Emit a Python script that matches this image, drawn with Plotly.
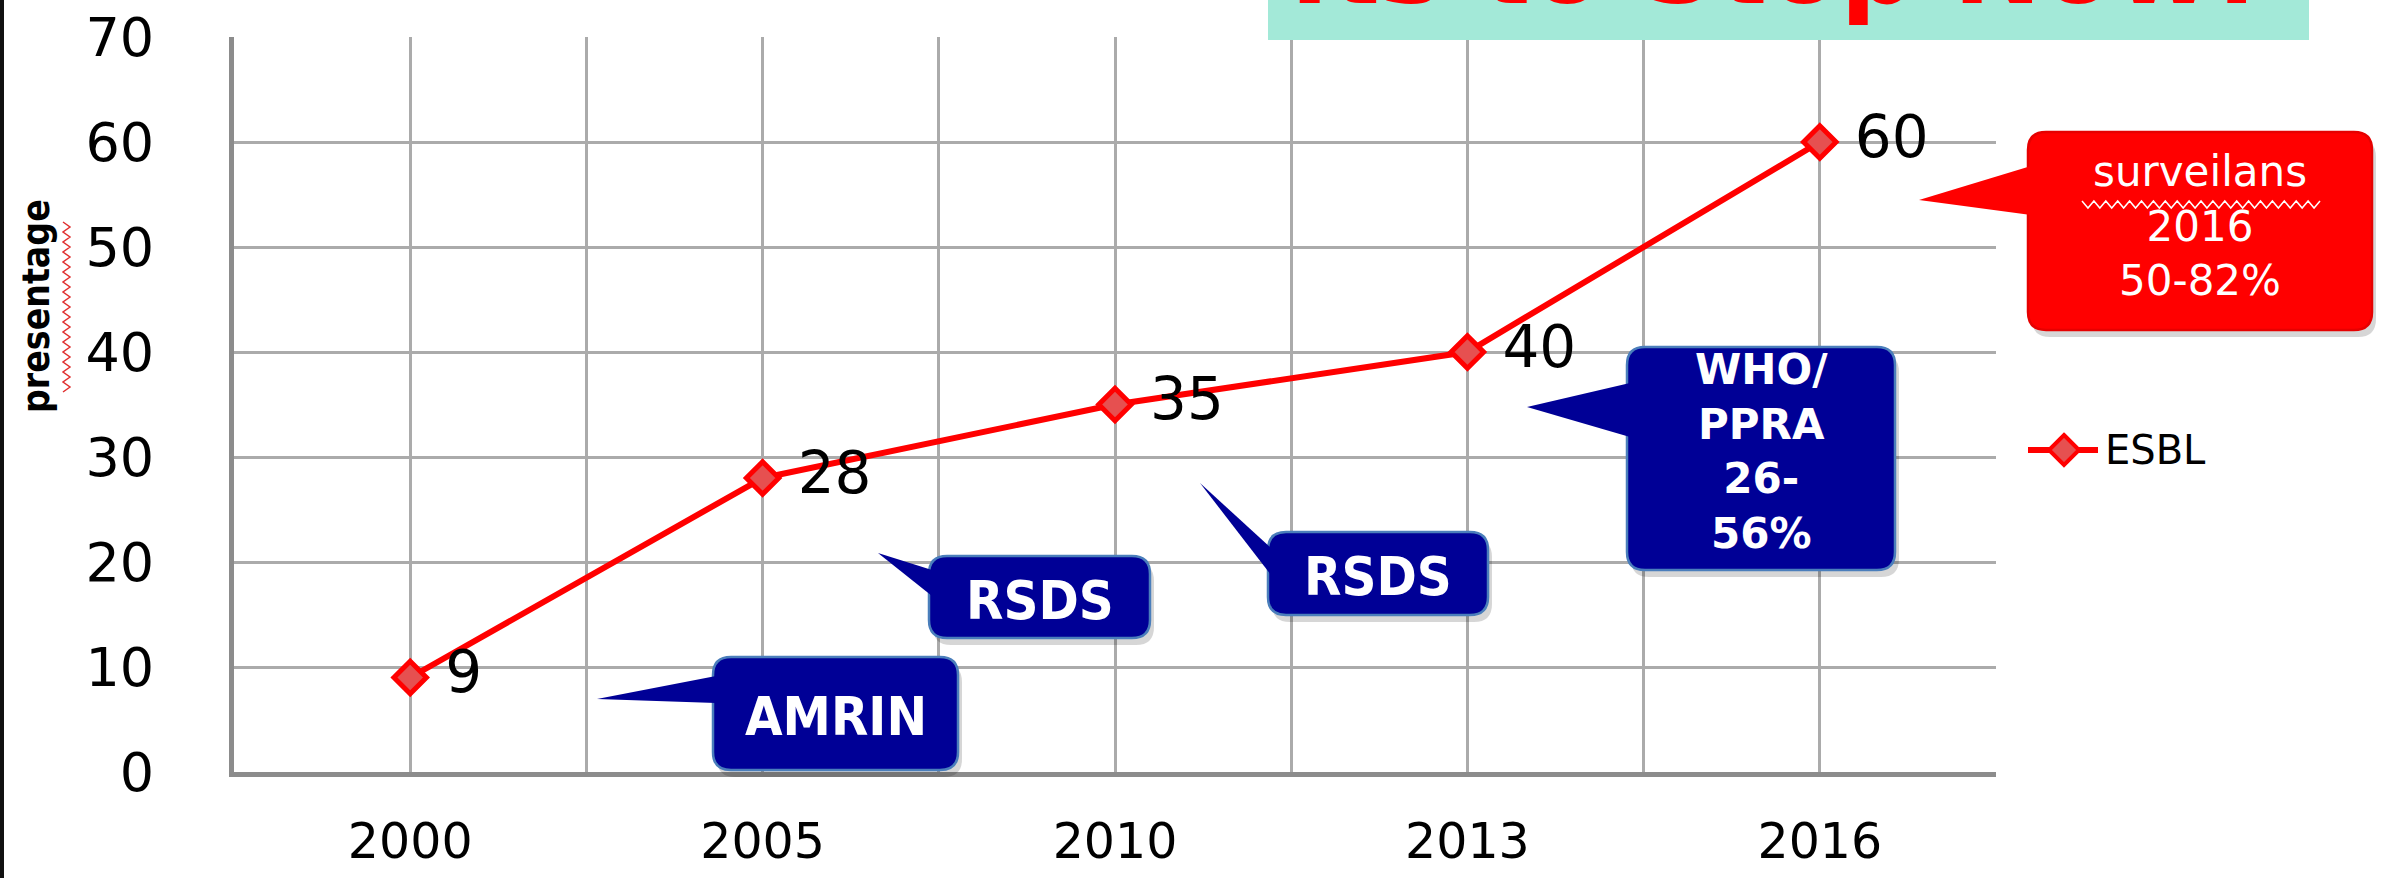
import plotly.graph_objects as go

# ---------------- data ----------------
years = ["2000", "2005", "2010", "2013", "2016"]
esbl = [9, 28, 35, 40, 60]
series_name = "ESBL"
y_ticks = [0, 10, 20, 30, 40, 50, 60, 70]
y_title = "presentage"
banner_text = "Its to Stop Now!"

# ---------------- geometry helpers (layout only) ----------------
W, H = 2381, 878
L, R, T, B = 234, 1996, 37, 772


def px(x):
    return (x - L) / (R - L)


def py(y):
    return (B - y) / (B - T)


def pt(x, y):
    return f"{px(x):.5f},{py(y):.5f}"


def rrect_path(x0, y0, x1, y1, r):
    return (f"M{pt(x0 + r, y0)} L{pt(x1 - r, y0)} Q{pt(x1, y0)} {pt(x1, y0 + r)} "
            f"L{pt(x1, y1 - r)} Q{pt(x1, y1)} {pt(x1 - r, y1)} "
            f"L{pt(x0 + r, y1)} Q{pt(x0, y1)} {pt(x0, y1 - r)} "
            f"L{pt(x0, y0 + r)} Q{pt(x0, y0)} {pt(x0 + r, y0)} Z")


def tri_path(tip, b1, b2):
    return f"M{pt(*tip)} L{pt(*b1)} L{pt(*b2)} Z"


def diamond_path(cx, cy, r):
    return f"M{pt(cx, cy - r)} L{pt(cx + r, cy)} L{pt(cx, cy + r)} L{pt(cx - r, cy)} Z"


def zigzag_path(x0, x1, y0, y1, n, vertical):
    pts = []
    for i in range(n + 1):
        f = i / n
        if vertical:
            pts.append((x0 if i % 2 == 0 else x1, y0 + (y1 - y0) * f))
        else:
            pts.append((x0 + (x1 - x0) * f, y0 if i % 2 == 0 else y1))
    return "M" + " L".join(pt(*p) for p in pts)


NAVY = "#000096"
NAVY_EDGE = "#4a7ebb"
RED = "#ff0000"
MARKER_FILL = "#e65050"
NARROW = "Liberation Sans Narrow, DejaVu Sans Condensed, Arial Narrow, sans-serif"
WIDE = "DejaVu Sans, Verdana, sans-serif"

# callouts: box (x0,y0,x1,y1), tip, base1, base2, text, text y-centre, font, size, fill, edge
callouts = [
    ((713, 657, 958, 770), (597, 699), (716, 676), (716, 703),
     "<b>AMRIN</b>", 716, NARROW, 54, NAVY, NAVY_EDGE),
    ((929, 556, 1150, 638), (878, 553), (932, 570), (932, 596),
     "<b>RSDS</b>", 600, NARROW, 54, NAVY, NAVY_EDGE),
    ((1268, 532, 1488, 615), (1200, 483), (1271, 548), (1271, 575),
     "<b>RSDS</b>", 576, NARROW, 54, NAVY, NAVY_EDGE),
    ((1627, 347, 1895, 570), (1527, 407), (1630, 383), (1630, 437),
     "<b>WHO/<br>PPRA<br>26-<br>56%</b>", 452, WIDE, 42, NAVY, NAVY_EDGE),
    ((2028, 132, 2372, 330), (1919, 200), (2031, 166), (2031, 215),
     "surveilans<br>2016<br>50-82%", 226, WIDE, 42, RED, "#e60000"),
]

# ---------------- figure ----------------
x_pos = list(range(len(years)))
fig = go.Figure()
fig.add_trace(go.Scatter(
    x=x_pos, y=esbl, name=series_name, showlegend=False,
    mode="lines+markers+text",
    text=[f" {v}" for v in esbl], textposition="middle right",
    textfont=dict(family=WIDE, size=58, color="#000000"),
    line=dict(color=RED, width=6),
    marker=dict(symbol="diamond", size=25, color=MARKER_FILL, line=dict(color=RED, width=5)),
))

grid_vals = [-0.5 + 0.5 * i for i in range(2 * len(years) + 1)]
grid_text = [years[int(v)] if float(v).is_integer() else "" for v in grid_vals]

shapes = []
annotations = []

for (x0, y0, x1, y1), tip, b1, b2, txt, yc, fam, size, fill, edge in callouts:
    shapes.append(dict(type="path", xref="paper", yref="paper",
                       path=rrect_path(x0 + 4, y0 + 7, x1 + 4, y1 + 7, 18),
                       fillcolor="rgba(0,0,0,0.16)", line=dict(width=0), layer="above"))
    shapes.append(dict(type="path", xref="paper", yref="paper",
                       path=rrect_path(x0, y0, x1, y1, 18),
                       fillcolor=fill, line=dict(color=edge, width=2.5), layer="above"))
    shapes.append(dict(type="path", xref="paper", yref="paper",
                       path=tri_path(tip, b1, b2),
                       fillcolor=fill, line=dict(width=0), layer="above"))
    annotations.append(dict(xref="paper", yref="paper", x=px((x0 + x1) / 2), y=py(yc),
                            text=txt, showarrow=False, xanchor="center", yanchor="middle",
                            font=dict(family=fam, size=size, color="#ffffff")))

# white spell-check squiggle under "surveilans"
shapes.append(dict(type="path", xref="paper", yref="paper",
                   path=zigzag_path(2082, 2320, 201, 208, 40, vertical=False),
                   line=dict(color="#ffffff", width=1.5), layer="above"))

# legend (series key) drawn at the right, like the source
shapes.append(dict(type="line", xref="paper", yref="paper",
                   x0=px(2028), x1=px(2098), y0=py(450), y1=py(450),
                   line=dict(color=RED, width=6)))
shapes.append(dict(type="path", xref="paper", yref="paper",
                   path=diamond_path(2064, 450, 15),
                   fillcolor=MARKER_FILL, line=dict(color=RED, width=4)))
annotations.append(dict(xref="paper", yref="paper", x=px(2103), y=py(450),
                        xanchor="left", yanchor="middle", showarrow=False,
                        text=series_name, font=dict(family=WIDE, size=40, color="#000000")))

# banner at top right (text mostly cut off by the page top, as in the source)
shapes.append(dict(type="rect", xref="paper", yref="paper",
                   x0=px(1268), x1=px(2309), y0=py(40), y1=py(-5),
                   fillcolor="#a3e9d8", line=dict(width=0), layer="above"))
annotations.append(dict(xref="paper", yref="paper", x=px(1775), y=py(30),
                        xanchor="center", yanchor="bottom", showarrow=False,
                        text=f"<b>{banner_text}</b>",
                        font=dict(family=WIDE, size=106, color=RED)))

# y-axis title with red squiggle
annotations.append(dict(xref="paper", yref="paper", x=px(36), y=py(306),
                        xanchor="center", yanchor="middle", showarrow=False,
                        text=f"<b>{y_title}</b>", textangle=-90,
                        font=dict(family=NARROW, size=37, color="#000000")))
shapes.append(dict(type="path", xref="paper", yref="paper",
                   path=zigzag_path(63, 70, 222, 392, 34, vertical=True),
                   line=dict(color="#e03030", width=1.5), layer="above"))

# thin dark edge at the far left
shapes.append(dict(type="line", xref="paper", yref="paper",
                   x0=px(2), x1=px(2), y0=py(0), y1=py(H),
                   line=dict(color="#111111", width=4)))

fig.update_layout(
    width=W, height=H,
    margin=dict(l=L, r=W - R, t=T, b=H - B, autoexpand=False),
    paper_bgcolor="#ffffff", plot_bgcolor="#ffffff",
    shapes=shapes, annotations=annotations,
    showlegend=False,
    xaxis=dict(range=[-0.5, 4.5], tickmode="array", tickvals=grid_vals, ticktext=grid_text,
               showgrid=True, gridcolor="#ababab", gridwidth=3, zeroline=False,
               showline=True, linecolor="#8c8c8c", linewidth=5, automargin=False,
               ticks="outside", ticklen=22, tickcolor="rgba(0,0,0,0)",
               tickfont=dict(family=WIDE, size=49, color="#000000"), fixedrange=True),
    yaxis=dict(range=[0, 70], tickmode="array", tickvals=y_ticks,
               showgrid=True, gridcolor="#ababab", gridwidth=3, zeroline=False,
               showline=True, linecolor="#8c8c8c", linewidth=5, automargin=False,
               ticks="outside", ticklen=64, tickcolor="rgba(0,0,0,0)",
               tickfont=dict(family=WIDE, size=54, color="#000000"), fixedrange=True),
)

fig.write_html(
    "out.html",
    config={"displayModeBar": False, "staticPlot": True},
    post_script="document.body.style.margin='0';document.documentElement.style.overflow='hidden';",
)
